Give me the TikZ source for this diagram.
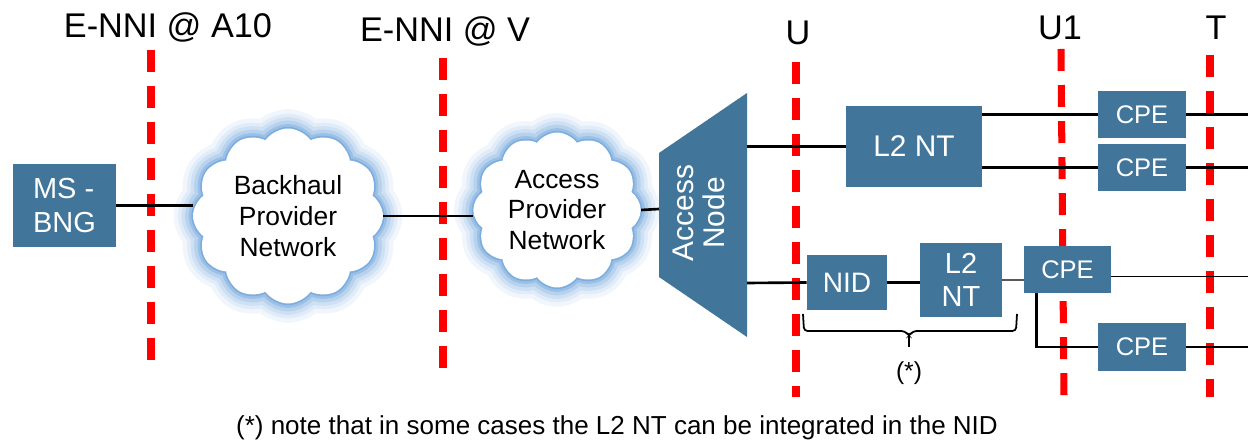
\documentclass[tikz,border=0pt]{standalone}
\usepackage{fontspec}
\setmainfont{Liberation Sans}
\usetikzlibrary{shapes.symbols,calc}
\definecolor{boxblue}{RGB}{65,118,154}
\definecolor{glowblue}{RGB}{80,145,212}
\newcommand{\fs}[2]{\fontsize{#1}{#2}\selectfont}
\tikzset{
  box/.style={fill=boxblue, text=white, inner sep=0pt, align=center},
  refline/.style={red, line width=4pt, dash pattern=on 12.5pt off 8pt},
  link/.style={line width=1.5pt},
  reflabel/.style={font=\fs{19.5}{21}},
  netcloud/.style={cloud, cloud puffs=12, cloud puff arc=110, cloud ignores aspect, fill=white, align=center,
    font=\fs{15}{17.5},
    preaction={draw=glowblue, opacity=0.08, line width=22pt},
    preaction={draw=glowblue, opacity=0.1, line width=17pt},
    preaction={draw=glowblue, opacity=0.13, line width=13pt},
    preaction={draw=glowblue, opacity=0.18, line width=9pt},
    preaction={draw=glowblue, opacity=0.28, line width=5pt},
    preaction={draw=glowblue, opacity=0.4, line width=2pt}}
}
\begin{document}
\begin{tikzpicture}[x=0.02cm, y=-0.02cm]
  \useasboundingbox (0,0) rectangle (1248,445);
  % reference points
  \node[reflabel] (a10) at (168,27) {E-NNI @ A10};
  \node[reflabel] (v) at (445,31) {E-NNI @ V};
  \node[reflabel] (u) at (798,33) {U};
  \node[reflabel] (u1) at (1060,28) {U1};
  \node[reflabel] (t) at (1216,28) {T};
  \draw[refline] (151,50) -- (151,365);
  \draw[refline] (443,58) -- (443,372);
  \draw[refline] (796,62) -- (796,397);
  \draw[refline] (1061,49) -- (1064,397);
  \draw[refline] (1210,55) -- (1210,397);
  % networks
  \node[box, minimum width=2.06cm, minimum height=1.66cm, font=\fs{16.5}{19}, align=left] (bng) at (64.5,205.5) {MS -\\BNG};
  \node[netcloud, minimum width=3.8cm, minimum height=3.5cm] (bh) at (288,216) {Backhaul\\Provider\\Network};
  \node[netcloud, minimum width=3.25cm, minimum height=3.1cm] (acc) at (557,210) {Access\\Provider\\Network};
  % access node
  \fill[boxblue] (659,153) -- (747,93) -- (747,337) -- (659,277) -- cycle;
  \node[text=white, rotate=90, align=center, font=\fs{17}{18}] (an) at (699,213) {Access\\Node};
  \coordinate (an-w) at (659,209);
  \coordinate (an-up) at (747,146.5);
  \coordinate (an-dn) at (747,283);
  \coordinate (edge) at (1248,0);
  % customer side
  \node[box, minimum width=2.72cm, minimum height=1.62cm, font=\fs{17}{19}] (l2nt) at (914,146.5) {L2 NT};
  \node[box, minimum width=1.76cm, minimum height=0.94cm, font=\fs{14.5}{16}] (cpea) at (1142,114.5) {CPE};
  \node[box, minimum width=1.76cm, minimum height=0.94cm, font=\fs{14.5}{16}] (cpeb) at (1142,167.5) {CPE};
  \node[box, minimum width=1.6cm, minimum height=1.1cm, font=\fs{16}{18}] (nid) at (847,282.5) {NID};
  \node[box, minimum width=1.64cm, minimum height=1.48cm, font=\fs{16.5}{18.5}] (l2ntb) at (961,280) {L2\\NT};
  \node[box, minimum width=1.74cm, minimum height=0.94cm, font=\fs{14.5}{16}] (cpec) at (1067.5,269.5) {CPE};
  \node[box, minimum width=1.76cm, minimum height=0.96cm, font=\fs{14.5}{16}] (cped) at (1142,347) {CPE};
  % links
  \draw[link] (bng.east) -- (bng.east -| bh.west);
  \draw[link] (bh.east) -- (bh.east -| acc.west);
  \draw[link] (acc.east) -- (an-w);
  \draw[link] (an-up) -- (l2nt.west);
  \draw[link] (an-dn) -- (nid.west);
  \draw[link, line width=2pt] (cpea.west -| l2nt.east) -- (cpea.west);
  \draw[link, line width=2pt] (cpeb.west -| l2nt.east) -- (cpeb.west);
  \draw[link] (cpea.east) -- (cpea.east -| edge);
  \draw[link, line width=2pt] (cpeb.east) -- (cpeb.east -| edge);
  \draw[link] (nid.east) -- (nid.east -| l2ntb.west);
  \draw[link, gray!70!black] (l2ntb.east) -- (l2ntb.east -| cpec.west);
  \draw[line width=1pt] ($(cpec.east)+(0,7)$) -- ($(cpec.east -| edge)+(0,7)$);
  \draw[link] ($(cpec.south west)+(13,0)$) |- (cped.west);
  \draw[link] (cped.east) -- (cped.east -| edge);
  % brace
  \draw[line width=1pt, rounded corners=2pt] (803,314) -- (804,331) -- (905,331) -- (909,336) -- (913,331) -- (1016,331) -- (1017,314);
  \draw[line width=1pt] (909,336) -- (909,347);
  \node[font=\fs{14}{16}] (star) at (909,373) {(*)};
  \node[font=\fs{14.8}{17}] (note) at (617,428) {(*) note that in some cases the L2 NT can be integrated in the NID};
\end{tikzpicture}
\end{document}
